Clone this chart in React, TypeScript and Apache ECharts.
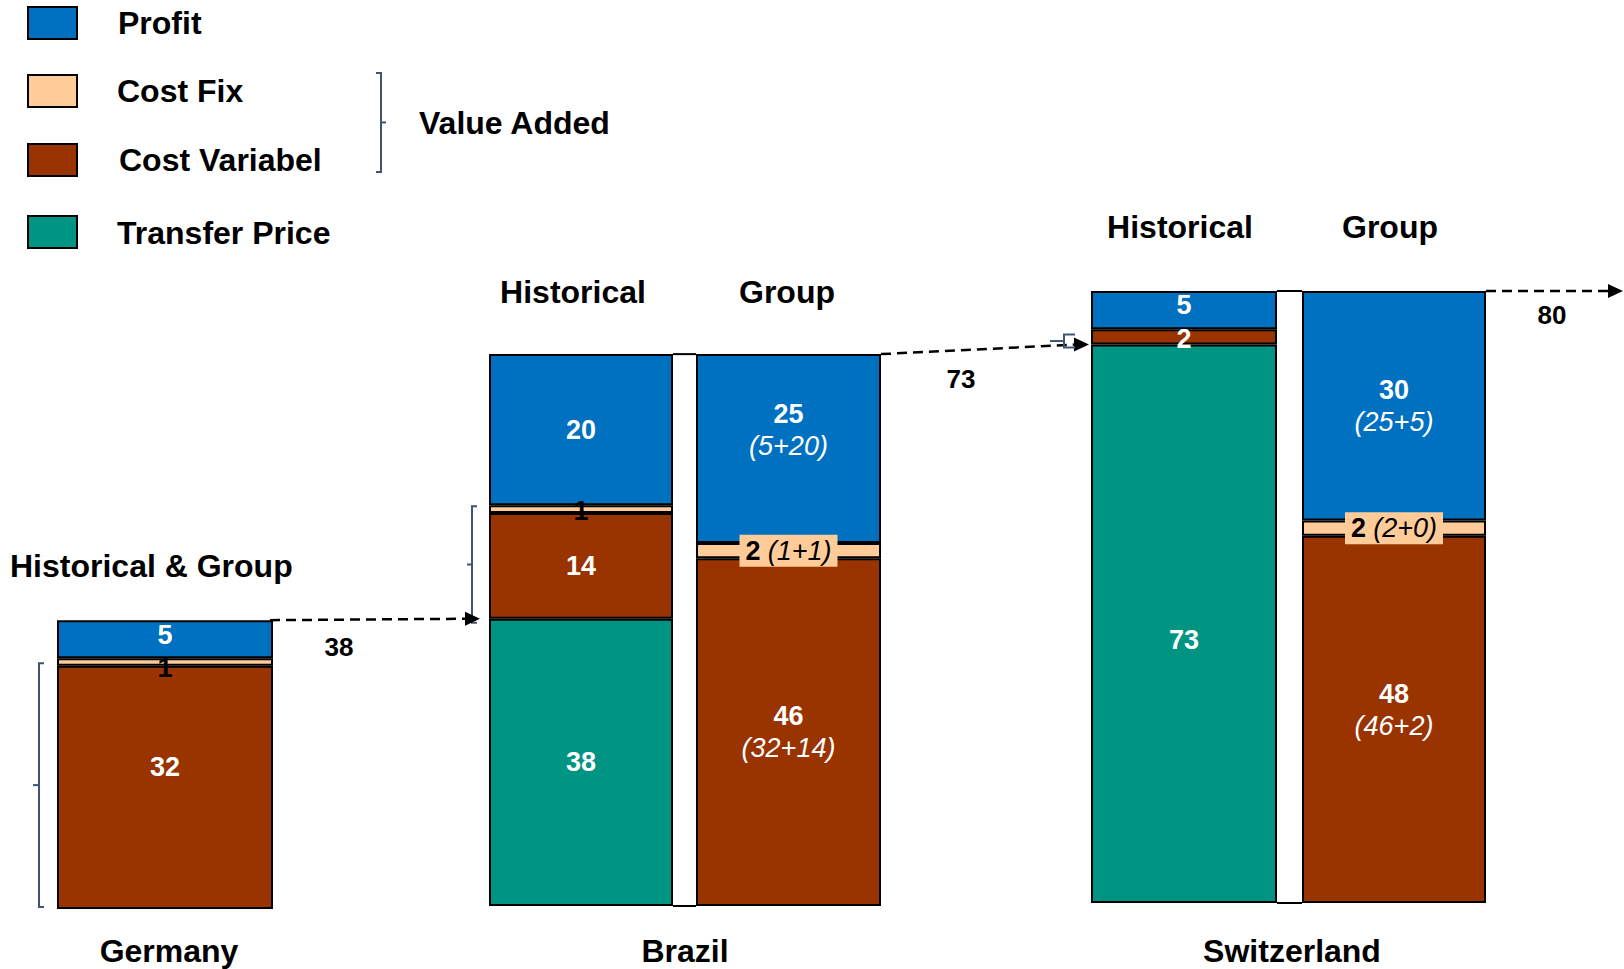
import React, { useEffect, useRef } from 'react';
import * as echarts from 'echarts';

// Columns: Germany, then Brazil and Switzerland each as Historical / Group
const barNames = ['Germany', 'Brazil Historical', 'Brazil Group', 'Switzerland Historical', 'Switzerland Group'];
const transferPrice = [0, 38, 0, 73, 0];
const costVariabel = [32, 14, 46, 2, 48];
const costFix = [1, 1, 2, 0, 2];
const profit = [5, 20, 25, 5, 30];

// How the group figures are built up (printed in italics)
const profitParts = ['', '', '5+20', '', '25+5'];
const costFixParts = ['', '', '1+1', '', '2+0'];
const costVariabelParts = ['', '', '32+14', '', '46+2'];

const columnHeaders = ['Historical & Group', 'Historical', 'Group', 'Historical', 'Group'];
const countries = ['Germany', 'Brazil', 'Switzerland'];
const legendItems = ['Profit', 'Cost Fix', 'Cost Variabel', 'Transfer Price'];
const bracketLabel = 'Value Added';

const FONT = '"Liberation Sans", Arial, Helvetica, sans-serif';
const BIG = `bold 32px ${FONT}`;
const MID = `bold 26px ${FONT}`;
const BRACKET = '#3E5475';

const COLORS: Record<string, string> = {
  profit: '#0070C0',
  costFix: '#FFCC99',
  costVariabel: '#993300',
  transferPrice: '#009483',
};

const Y_MAX = 80;

// Pixel frame of each column: left edge, width, baseline, pixels per unit
const columnLayout = [
  { left: 57, width: 216, base: 909, ppu: 7.6 },
  { left: 489, width: 184, base: 906, ppu: 7.56 },
  { left: 696, width: 185, base: 906, ppu: 7.56 },
  { left: 1091, width: 186, base: 903, ppu: 7.65 },
  { left: 1302, width: 184, base: 903, ppu: 7.65 },
];

// Segments from bottom to top of each stack
const segments = [
  { key: 'transferPrice', name: 'Transfer Price', values: transferPrice, parts: null as string[] | null, text: '#fff', inline: false, shift: [0, 0, 0, 16, 0] },
  { key: 'costVariabel', name: 'Cost Variabel', values: costVariabel, parts: costVariabelParts, text: '#fff', inline: false, shift: [-20, 0, 0, 2, -9] },
  { key: 'costFix', name: 'Cost Fix', values: costFix, parts: costFixParts, text: '#000', inline: true, shift: [6, 2, 0, 0, 0] },
  { key: 'profit', name: 'Profit', values: profit, parts: profitParts, text: '#fff', inline: false, shift: [-4, 0, -19, -5, 0] },
];

const headerPos = [
  { x: 10, y: 566, align: 'left' },
  { x: 573, y: 292, align: 'center' },
  { x: 787, y: 292, align: 'center' },
  { x: 1180, y: 227, align: 'center' },
  { x: 1390, y: 227, align: 'center' },
];
const countryPos = [
  { x: 169, y: 951 },
  { x: 685, y: 951 },
  { x: 1292, y: 951 },
];
const legendPos = [
  { boxY: 7, textX: 118, textY: 23 },
  { boxY: 75, textX: 117, textY: 91 },
  { boxY: 144, textX: 119, textY: 160 },
  { boxY: 216, textX: 117, textY: 233 },
];
const legendColors = [COLORS.profit, COLORS.costFix, COLORS.costVariabel, COLORS.transferPrice];

function text(t: string, x: number, y: number, font: string, align = 'center', fill = '#000') {
  return {
    type: 'text',
    x,
    y,
    silent: true,
    style: { text: t, font, fill, align, verticalAlign: 'middle', textAlign: align, textVerticalAlign: 'middle' },
  };
}

function arrow(x1: number, y1: number, x2: number, y2: number) {
  return [
    {
      type: 'line',
      silent: true,
      shape: { x1, y1, x2: x2 - 13, y2 },
      style: { stroke: '#000', lineWidth: 2.5, lineDash: [10, 6] },
    },
    {
      type: 'polygon',
      silent: true,
      shape: { points: [[x2, y2], [x2 - 15, y2 - 7], [x2 - 15, y2 + 7]] },
      style: { fill: '#000' },
    },
  ];
}

// dir = 1: end serifs point right, centre tick points left; dir = -1 mirrors it
function bracket(x: number, top: number, bottom: number, dir: number, serif = 5, tick = 6) {
  const mid = (top + bottom) / 2;
  return [
    {
      type: 'polyline',
      silent: true,
      shape: { points: [[x + serif * dir, top], [x, top], [x, bottom], [x + serif * dir, bottom]] },
      style: { stroke: BRACKET, lineWidth: 2, fill: null },
    },
    {
      type: 'line',
      silent: true,
      shape: { x1: x, y1: mid, x2: x - tick * dir, y2: mid },
      style: { stroke: BRACKET, lineWidth: 2 },
    },
  ];
}

export default function App() {
  const ref = useRef<HTMLDivElement>(null);

  useEffect(() => {
    document.body.style.margin = '0';
    const chart = echarts.init(ref.current!, null, { renderer: 'svg' });

    const grid = columnLayout.map((c) => ({
      left: c.left,
      width: c.width,
      top: c.base - Y_MAX * c.ppu,
      height: Y_MAX * c.ppu,
      containLabel: false,
    }));
    const xAxis = columnLayout.map((_, i) => ({
      type: 'category',
      gridIndex: i,
      data: [barNames[i]],
      show: false,
      boundaryGap: true,
    }));
    const yAxis = columnLayout.map((_, i) => ({
      type: 'value',
      gridIndex: i,
      min: 0,
      max: Y_MAX,
      show: false,
      splitLine: { show: false },
    }));

    const series: any[] = [];
    barNames.forEach((_, i) => {
      segments.forEach((seg) => {
        const v = seg.values[i];
        if (!v) return;
        const part = seg.parts ? seg.parts[i] : '';
        const str = part
          ? seg.inline
            ? `{v|${v}} {p|(${part})}`
            : `{v|${v}}\n{p|(${part})}`
          : `{v|${v}}`;
        // the inline breakdown sits on a patch of the band colour so it stays legible on the thin band
        const patch = seg.inline && part ? { backgroundColor: COLORS[seg.key], padding: [2, 6] } : {};
        const lh = part && !seg.inline ? 32 : 28;
        series.push({
          type: 'bar',
          name: seg.name,
          xAxisIndex: i,
          yAxisIndex: i,
          stack: 'col' + i,
          barWidth: '100%',
          data: [v],
          silent: true,
          itemStyle: { color: COLORS[seg.key], borderColor: '#000', borderWidth: 2 },
          label: {
            show: true,
            position: 'inside',
            offset: [0, seg.shift[i]],
            color: seg.text,
            fontSize: 26,
            fontFamily: FONT,
            formatter: () => str,
            ...patch,
            rich: {
              v: { color: seg.text, fontWeight: 'bold', fontSize: 27, fontFamily: FONT, lineHeight: lh },
              p: { color: seg.text, fontStyle: 'italic', fontSize: 27, fontFamily: FONT, lineHeight: lh },
            },
          },
        });
      });
    });

    chart.setOption({ animation: false, grid, xAxis, yAxis, series });

    const totals = barNames.map((_, i) => transferPrice[i] + costVariabel[i] + costFix[i] + profit[i]);
    const yAt = (i: number, v: number) => chart.convertToPixel({ yAxisIndex: i }, v) as number;
    const rightOf = (i: number) => columnLayout[i].left + columnLayout[i].width;
    const leftOf = (i: number) => columnLayout[i].left;

    const g: any[] = [];

    // Legend
    legendItems.forEach((name, k) => {
      const p = legendPos[k];
      g.push({
        type: 'rect',
        silent: true,
        shape: { x: 28, y: p.boxY, width: 49, height: 32 },
        style: { fill: legendColors[k], stroke: '#000', lineWidth: 2 },
      });
      g.push(text(name, p.textX, p.textY, BIG, 'left'));
    });
    g.push(...bracket(381, 73, 172, -1, 5, 5));
    g.push(text(bracketLabel, 419, 123, BIG, 'left'));

    // Column headers and country names
    columnHeaders.forEach((h, i) => g.push(text(h, headerPos[i].x, headerPos[i].y, BIG, headerPos[i].align)));
    countries.forEach((c, k) => g.push(text(c, countryPos[k].x, countryPos[k].y, BIG)));

    // Value-added brackets beside the cost blocks
    g.push(...bracket(39, yAt(0, costVariabel[0] + costFix[0]) + 5, yAt(0, 0) - 2, 1, 5, 6));
    g.push(
      ...bracket(472, yAt(1, transferPrice[1] + costVariabel[1] + costFix[1]) + 1, yAt(1, transferPrice[1]) + 4, 1, 5, 5)
    );

    // Thin rules joining each Historical / Group pair at top and bottom
    [[1, 2], [3, 4]].forEach(([a, b]) => {
      [yAt(a, totals[a]), yAt(a, 0)].forEach((y) =>
        g.push({
          type: 'line',
          silent: true,
          shape: { x1: rightOf(a), y1: y, x2: leftOf(b), y2: y },
          style: { stroke: '#000', lineWidth: 2 },
        })
      );
    });

    // Carry-over arrows: each country's total becomes the next transfer price
    const a1y = yAt(0, totals[0]);
    g.push(...arrow(rightOf(0) - 3, a1y, leftOf(1) - 9, yAt(1, transferPrice[1])));
    g.push(text(String(totals[0]), 339, a1y + 27, MID));

    const a2y = yAt(2, totals[2]);
    const a2end = yAt(3, transferPrice[3]);
    g.push(...arrow(rightOf(2), a2y, leftOf(3) - 2, a2end));
    g.push(text(String(totals[2]), 961, a2y + 25, MID));
    g.push(...bracket(1064, a2end - 10, a2end + 3, 1, 11, 14));

    const a3y = yAt(4, totals[4]);
    g.push(...arrow(rightOf(4), a3y, 1623, a3y));
    g.push(text(String(totals[4]), 1552, a3y + 24, MID));

    chart.setOption({ graphic: { elements: g } });

    return () => chart.dispose();
  }, []);

  return <div ref={ref} style={{ width: 1624, height: 969 }} />;
}
